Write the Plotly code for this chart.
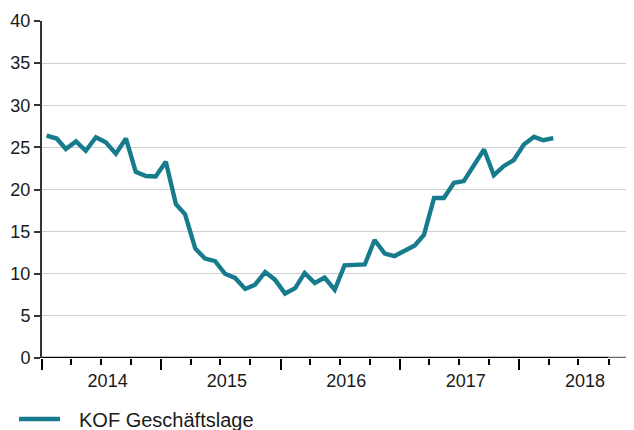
import pandas as pd
import plotly.graph_objects as go

# ---- data ----
start_month = "2014-01-01"
n_months = 52
months = [d + pd.Timedelta(days=14) for d in pd.date_range(start_month, periods=n_months, freq="MS")]
kof_values = [
    26.4, 26.05, 24.8, 25.7, 24.6, 26.2, 25.6, 24.25, 26.05, 22.1, 21.6, 21.55,
    23.3, 18.25, 17.05, 13.0, 11.8, 11.5, 10.0, 9.5, 8.2, 8.7, 10.2, 9.3,
    7.65, 8.3, 10.1, 8.9, 9.55, 8.1, 11.0, 11.0, 11.1, 14.0, 12.4, 12.1,
    12.8, 13.35, 14.6, 19.0, 19.0, 20.8, 21.0, 23.0, 24.75, 21.7, 22.8, 23.5,
    25.35, 26.25, 25.85, 26.1,
]
series_name = "KOF Geschäftslage"
y_ticks = [0, 5, 10, 15, 20, 25, 30, 35, 40]
x_range = ["2014-01-01", "2018-12-18"]
axis_black_end = "2018-10-01"

teal = "#167b8c"
font_family = "Liberation Sans, Arial, sans-serif"

fig = go.Figure()
fig.add_trace(go.Scatter(
    x=months, y=kof_values, mode="lines", name="\u2002\u2009" + series_name,
    line=dict(color=teal, width=4.4),
))

# the page body keeps an 8px margin, so the figure is sized to fit the 634x430 window
fig.update_layout(
    width=626, height=422,
    margin=dict(l=34, r=0, t=13, b=72, autoexpand=False),
    paper_bgcolor="white", plot_bgcolor="white",
    font=dict(family=font_family, color="#1a1a1a", size=18),
    showlegend=True,
    legend=dict(
        orientation="h", xref="container", yref="paper",
        x=6 / 626, y=-0.181, xanchor="left", yanchor="middle",
        font=dict(size=20, family=font_family, color="#1a1a1a"),
        itemwidth=41,
    ),
)

fig.update_xaxes(
    type="date", range=x_range, automargin=False,
    tick0="2014-01-01", dtick="M12", tickformat="%Y",
    ticks="outside", ticklen=11, tickwidth=1.5, tickcolor="black",
    ticklabelmode="period", ticklabelshift=6, ticklabelstandoff=-5,
    tickfont=dict(size=18),
    showgrid=False, showline=False, zeroline=False,
    minor=dict(dtick="M3", tick0="2014-01-01", ticks="outside", ticklen=6,
               tickwidth=1.5, tickcolor="black", showgrid=False),
)
fig.update_yaxes(
    range=[0, 40], tickvals=y_ticks, automargin=False,
    ticks="outside", ticklen=6, tickwidth=1.5, tickcolor="#333333",
    showline=True, linecolor="#333333", linewidth=2,
    showgrid=True, gridcolor="#cfcfcf", gridwidth=1.3,
    zeroline=False, tickfont=dict(size=18),
)

fig.add_shape(type="line", xref="x", yref="y", x0=x_range[0], x1=axis_black_end,
              y0=0, y1=0, line=dict(color="black", width=2.5), layer="above")
fig.add_shape(type="line", xref="x", yref="y", x0=axis_black_end, x1=x_range[1],
              y0=0, y1=0, line=dict(color="#6a6a6a", width=2.5), layer="above")

fig.write_html("out.html")
